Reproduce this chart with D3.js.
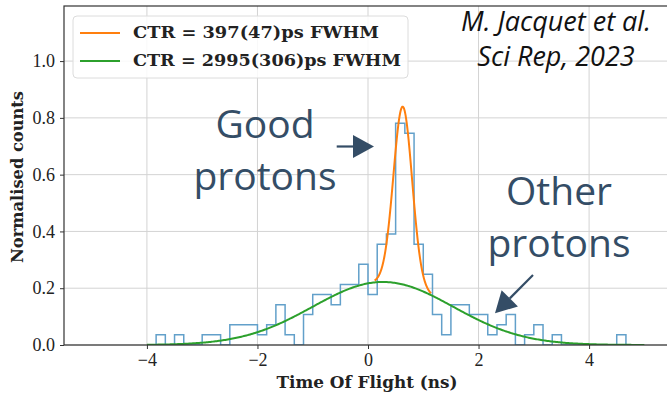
<!DOCTYPE html>
<html>
<head>
<meta charset="utf-8">
<script src="https://cdn.jsdelivr.net/npm/d3@7"></script>
<style>
  body { margin: 0; background: #fff; }
  svg { display: block; }
</style>
</head>
<body>
<svg id="chart"></svg>
<script>
// histogram (normalised counts), bins of 1/6 ns starting at -23/6 ns
const binStart = -23 / 6;
const binWidth = 1 / 6;
const binHeights = [
  0.036, 0, 0.036, 0, 0, 0.036, 0.036, 0, 0.071, 0.071,
  0.071, 0.036, 0.071, 0.142, 0.036, 0, 0.107, 0.178, 0.178, 0.142,
  0.213, 0.213, 0.284, 0.178, 0.355, 0.391, 0.781, 0.746, 0.355, 0.249,
  0.107, 0.036, 0.142, 0.142, 0.107, 0.107, 0.036, 0.071, 0.107, 0,
  0.036, 0.071, 0, 0.036, 0, 0, 0, 0, 0, 0,
  0.036
];

// gaussian fits: [amplitude, mean (ns), FWHM (ns)]
const wideFit = [0.222, 0.27, 2.995];
const narrowFit = [0.626, 0.629, 0.397];
const wideRange = [-4, 5];
const narrowRange = [0.12, 1.14];

const legendLabels = ['CTR = 397(47)ps FWHM', 'CTR = 2995(306)ps FWHM'];
const xTicks = [-4, -2, 0, 2, 4];
const yTicks = [0, 0.2, 0.4, 0.6, 0.8, 1.0];

const width = 667, height = 395;
const margin = { left: 64, right: -5, top: 6, bottom: 50 };
const x0 = margin.left, x1 = width - margin.right;
const yTop = margin.top, yBot = height - margin.bottom;

const svg = d3.select('#chart').attr('width', width).attr('height', height);

const x = d3.scaleLinear().domain([-5.5, 5.5]).range([x0, x1]);
const y = d3.scaleLinear().domain([0, 1.194]).range([yBot, yTop]);

const gauss = (p, t) => {
  const s = p[2] / (2 * Math.sqrt(2 * Math.log(2)));
  return p[0] * Math.exp(-((t - p[1]) ** 2) / (2 * s * s));
};

svg.append('defs').append('clipPath').attr('id', 'clip')
  .append('rect').attr('x', x0).attr('y', yTop).attr('width', x1 - x0).attr('height', yBot - yTop);

// grid
const grid = svg.append('g').attr('stroke', '#d3d3d3').attr('stroke-width', 1);
grid.selectAll('.gx').data(xTicks).enter().append('line')
  .attr('x1', d => x(d)).attr('x2', d => x(d)).attr('y1', yTop).attr('y2', yBot);
grid.selectAll('.gy').data(yTicks).enter().append('line')
  .attr('x1', x0).attr('x2', x1).attr('y1', d => y(d)).attr('y2', d => y(d));

const plot = svg.append('g').attr('clip-path', 'url(#clip)');

// step histogram
const pts = [[binStart, 0]];
binHeights.forEach((h, i) => {
  const a = binStart + i * binWidth;
  pts.push([a, h], [a + binWidth, h]);
});
pts.push([binStart + binHeights.length * binWidth, 0]);
plot.append('path')
  .attr('d', d3.line().x(d => x(d[0])).y(d => y(d[1]))(pts))
  .attr('fill', 'none').attr('stroke', '#62a0ca').attr('stroke-width', 1.5);

// fits
const sample = (lo, hi, f) => d3.range(0, 401).map(i => {
  const t = lo + (hi - lo) * i / 400;
  return [t, f(t)];
});
const line = d3.line().x(d => x(d[0])).y(d => y(d[1]));
plot.append('path')
  .attr('d', line(sample(narrowRange[0], narrowRange[1], t => gauss(wideFit, t) + gauss(narrowFit, t))))
  .attr('fill', 'none').attr('stroke', '#ff7f0e').attr('stroke-width', 2);
plot.append('path')
  .attr('d', line(sample(wideRange[0], wideRange[1], t => gauss(wideFit, t))))
  .attr('fill', 'none').attr('stroke', '#2ca02c').attr('stroke-width', 2);

// axes
const tickFont = '"Liberation Serif", serif';
const boldFont = '"DejaVu Serif", serif';
const xAxis = svg.append('g').attr('transform', `translate(0,${yBot})`)
  .call(d3.axisBottom(x).tickValues(xTicks).tickSize(4).tickPadding(4).tickFormat(d3.format('d')));
const yAxis = svg.append('g').attr('transform', `translate(${x0},0)`)
  .call(d3.axisLeft(y).tickValues(yTicks).tickSize(4).tickPadding(5).tickFormat(d3.format('.1f')));
[xAxis, yAxis].forEach(g => {
  g.select('.domain').remove();
  g.selectAll('.tick line').attr('stroke', '#333');
  g.selectAll('.tick text').attr('font-family', tickFont).attr('font-size', 18).attr('fill', '#222');
});

// frame
svg.append('rect').attr('x', x0).attr('y', yTop).attr('width', x1 - x0).attr('height', yBot - yTop)
  .attr('fill', 'none').attr('stroke', '#333').attr('stroke-width', 1.2);

// axis labels
svg.append('text').attr('x', 367).attr('y', 388).attr('text-anchor', 'middle')
  .attr('font-family', boldFont).attr('font-weight', 'bold').attr('font-size', 16).attr('fill', '#222')
  .attr('textLength', 181).attr('lengthAdjust', 'spacingAndGlyphs')
  .text('Time Of Flight (ns)');
svg.append('text').attr('transform', 'translate(23,177) rotate(-90)').attr('text-anchor', 'middle')
  .attr('font-family', boldFont).attr('font-weight', 'bold').attr('font-size', 16).attr('fill', '#222')
  .attr('textLength', 172).attr('lengthAdjust', 'spacingAndGlyphs')
  .text('Normalised counts');

// legend
const lg = svg.append('g');
lg.append('rect').attr('x', 73).attr('y', 16).attr('width', 335).attr('height', 62).attr('rx', 4)
  .attr('fill', 'rgba(255,255,255,0.85)').attr('stroke', '#dcdcdc');
const legendColors = ['#ff7f0e', '#2ca02c'];
const legendWidths = [246, 268];
legendLabels.forEach((lab, i) => {
  const ly = 33 + i * 28;
  lg.append('line').attr('x1', 80).attr('x2', 120).attr('y1', ly).attr('y2', ly)
    .attr('stroke', legendColors[i]).attr('stroke-width', 2);
  lg.append('text').attr('x', 133).attr('y', ly + 4.5)
    .attr('font-family', boldFont).attr('font-weight', 'bold').attr('font-size', 16.5).attr('fill', '#222')
    .attr('textLength', legendWidths[i]).attr('lengthAdjust', 'spacingAndGlyphs')
    .text(lab);
});

// annotations
const annColor = '#344d66';
const annFont = '"Open Sans", sans-serif';
const ann = (lines, cx, by) => lines.forEach((t, i) => {
  svg.append('text').attr('x', cx).attr('y', by + i * 52).attr('text-anchor', 'middle')
    .attr('font-family', annFont).attr('font-size', 39).attr('fill', annColor).text(t);
});
ann(['Good', 'protons'], 265, 138);
ann(['Other', 'protons'], 559, 205);

const arrow = (xa, ya, xb, yb) => {
  const ang = Math.atan2(yb - ya, xb - xa);
  const hl = 21, hw = 11.5;
  const bx = xb - hl * Math.cos(ang), by = yb - hl * Math.sin(ang);
  svg.append('line').attr('x1', xa).attr('y1', ya).attr('x2', bx).attr('y2', by)
    .attr('stroke', annColor).attr('stroke-width', 2.2);
  const px = -Math.sin(ang) * hw, py = Math.cos(ang) * hw;
  svg.append('path')
    .attr('d', `M${xb},${yb}L${bx + px},${by + py}L${bx - px},${by - py}Z`)
    .attr('fill', annColor);
};
arrow(336.7, 146.5, 374, 146.5);
arrow(533, 275, 495, 313.3);

// citation
const cite = ['M. Jacquet et al.', 'Sci Rep, 2023'];
cite.forEach((t, i) => {
  svg.append('text').attr('x', 556).attr('y', 31 + i * 35).attr('text-anchor', 'middle')
    .attr('font-family', annFont).attr('font-style', 'italic').attr('font-size', 27).attr('fill', '#111')
    .text(t);
});
</script>
</body>
</html>
